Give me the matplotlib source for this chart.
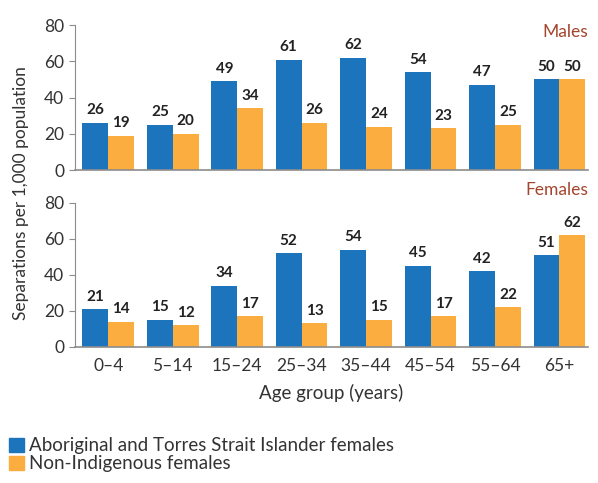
import matplotlib
matplotlib.use("Agg")
import matplotlib.pyplot as plt
import matplotlib.patches as mpatches
import numpy as np

plt.rcParams['font.family'] = ['Lato', 'DejaVu Sans']

groups = ["0–4", "5–14", "15–24", "25–34", "35–44", "45–54", "55–64", "65+"]
males_ind = [26, 25, 49, 61, 62, 54, 47, 50]
males_non = [19, 20, 34, 26, 24, 23, 25, 50]
fem_ind = [21, 15, 34, 52, 54, 45, 42, 51]
fem_non = [14, 12, 17, 13, 15, 17, 22, 62]

blue = "#1C75BC"
orange = "#FBAD3F"
grey = "#8C8C8C"
red = "#A3452D"

fig = plt.figure(figsize=(5.98, 4.83), dpi=100)
ax1 = fig.add_axes([0.125, 0.648, 0.858, 0.300])
ax2 = fig.add_axes([0.125, 0.282, 0.858, 0.298])

x = np.arange(len(groups))
w = 0.4

def draw(ax, a, b, title, ty):
    ax.bar(x - w/2, a, w, color=blue)
    ax.bar(x + w/2, b, w, color=orange)
    for i in range(len(x)):
        ax.text(x[i] - w/2, a[i] + 3, str(a[i]), ha='center', va='bottom',
                fontsize=11, fontweight='bold', color='#222222')
        ax.text(x[i] + w/2, b[i] + 3, str(b[i]), ha='center', va='bottom',
                fontsize=11, fontweight='bold', color='#222222')
    ax.set_ylim(0, 80)
    ax.set_yticks([0, 20, 40, 60, 80])
    ax.set_xlim(-0.52, 7.44)
    ax.spines['top'].set_visible(False)
    ax.spines['right'].set_visible(False)
    ax.spines['left'].set_color(grey)
    ax.spines['bottom'].set_color(grey)
    ax.spines['bottom'].set_linewidth(1.2)
    ax.tick_params(axis='y', colors=grey, labelcolor='#333333', labelsize=12.5, length=4)
    ax.tick_params(axis='x', length=0, labelcolor='#333333', labelsize=12.5, pad=8)
    ax.text(1.0, ty, title, transform=ax.transAxes, ha='right', va='center',
            fontsize=12.5, color=red)

draw(ax1, males_ind, males_non, "Males", 0.95)
ax1.set_xticks(x)
ax1.set_xticklabels([])
draw(ax2, fem_ind, fem_non, "Females", 1.09)
ax2.set_xticks(x)
ax2.set_xticklabels(groups)
ax2.set_xlabel("Age group (years)", fontsize=13.5, color='#333333', labelpad=7)

fig.text(0.035, 0.60, "Separations per 1,000 population", rotation=90,
         ha='center', va='center', fontsize=12.5, color='#333333')

handles = [mpatches.Patch(color=blue, label="Aboriginal and Torres Strait Islander females"),
           mpatches.Patch(color=orange, label="Non-Indigenous females")]
fig.legend(handles=handles, loc='upper left', bbox_to_anchor=(0.002, 0.11),
           frameon=False, fontsize=13.5, handlelength=0.8, handleheight=0.8,
           handletextpad=0.3, labelspacing=0.05, borderaxespad=0,
           labelcolor='#333333')

fig.savefig("out.png", dpi=100)
